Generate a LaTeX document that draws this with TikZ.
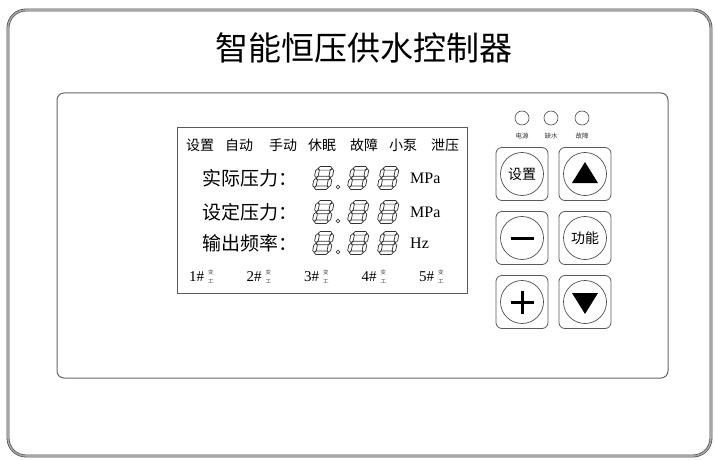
\documentclass[tikz,border=0pt]{standalone}
\usepackage{fontspec}
\setmainfont{Liberation Serif}
\newfontfamily\cjk{Noto Sans CJK SC}
\usepackage{xcolor}
\usepackage{tikz}
\usetikzlibrary{positioning}
\usetikzlibrary{calc}

\tikzset{
  seg/.style={draw=black!80, line width=0.7pt, line join=round},
  keybox/.style={draw=black!65, line width=0.8pt, rounded corners=6pt, minimum width=52pt, minimum height=53pt},
  keyring/.style={draw=black!70, line width=0.7pt, circle, minimum size=43pt, inner sep=0pt},
  led/.style={draw=black!70, line width=0.6pt, circle, minimum size=14pt, inner sep=0pt},
  tiny/.style={font=\cjk\fontsize{5.5}{5.5}\selectfont, inner sep=0pt, black!70},
}

% seven segment digit, top left corner at (#1,#2)
\newcommand{\segdigit}[2]{%
 \begin{scope}[shift={(#1,#2)}, xslant=0.2]
  \foreach \yy in {1.8, 11.5, 21.2} {
     \draw[seg] (2.0,\yy) -- (3.8,\yy-1.8) -- (14.2,\yy-1.8) -- (16.0,\yy) -- (14.2,\yy+1.8) -- (3.8,\yy+1.8) -- cycle;
  }
  \foreach \xx in {1.8, 16.2} {
   \foreach \yy/\yz in {2.2/11.1, 11.9/20.8} {
     \draw[seg] (\xx,\yy) -- (\xx+1.8,\yy+1.8) -- (\xx+1.8,\yz-1.8) -- (\xx,\yz) -- (\xx-1.8,\yz-1.8) -- (\xx-1.8,\yy+1.8) -- cycle;
   }
  }
 \end{scope}}

\begin{document}
\begin{tikzpicture}[x=1pt, y=-1pt]
 \useasboundingbox (0,0) rectangle (716,460);

 %frame
 \draw[draw=black!75, double=black!35, line width=0.6pt, double distance=1.6pt, rounded corners=18pt] (8,10) rectangle (711,456);
 \draw[black!60, line width=1pt, rounded corners=7pt] (57,93) rectangle (668,378);
 \node[font=\cjk\fontsize{33}{33}\selectfont, inner sep=0pt] (title) at (364,48) {智能恒压供水控制器};

 %lcd
 \draw[black!65, line width=1pt] (177,128) rectangle (467,293);

 \foreach \i/\x/\name in {1/200/设置, 2/239/自动, 3/283/手动, 4/322/休眠, 5/364/故障, 6/403/小泵, 7/445/泄压} {
     \node[font=\cjk\fontsize{14}{14}\selectfont, inner sep=0pt] (S\i) at (\x,145) {\name};
 }

 \foreach \i/\y/\name/\unit in {1/178/实际压力：/MPa, 2/212/设定压力：/MPa, 3/243/输出频率：/Hz} {
     \node[anchor=west, font=\cjk\fontsize{19}{19}\selectfont, inner sep=0pt] (N\i) at (202,\y) {\name};
     \node[anchor=west, font=\fontsize{16}{16}\selectfont, inner sep=0pt] (U\i) at (410,\y) {\unit};
     \foreach \x in {316.5, 351.5, 381.5} {
         \segdigit{\x}{\y-11.5}
     }
     \draw[black!75, line width=0.6pt] (338,\y+9) circle (1.9);
 }

 %level 2
 \foreach \i in {1,...,5} {
     \node[anchor=west, font=\fontsize{15}{15}\selectfont, inner sep=0pt] (P\i) at ({189+57.5*(\i-1)},277) {\i\#};
     \node[tiny, anchor=south west] (T\i) at ($(P\i.east)+(3.5,-1.5)$) {变};
     \node[tiny, below=3.5pt of T\i] (W\i) {工};
 }

 %leds
 \foreach \i/\x/\name in {1/522/电源, 2/551/缺水, 3/582/故障} {
     \node[led] (L\i) at (\x,118) {};
     \node[below=8pt of L\i, font=\cjk\fontsize{6.5}{6.5}\selectfont, inner sep=0pt, black!80] (E\i) {\name};
 }

 %keys
 \foreach \c/\x in {1/522, 2/585} {
   \foreach \r/\y in {1/174, 2/238, 3/302} {
         \node[keybox] (K\c\r) at (\x,\y) {};
         \node[keyring] (R\c\r) at (K\c\r) {};
   }
 }
 \node[font=\cjk\fontsize{14}{14}\selectfont, inner sep=0pt] (t11) at (R11) {设置};
 \node[font=\cjk\fontsize{14}{14}\selectfont, inner sep=0pt] (t22) at (R22) {功能};
 \fill ($(R21)+(0,-12)$) -- ($(R21)+(13,9)$) -- ($(R21)+(-13,9)$) -- cycle;
 \fill ($(R23)+(0,12)$) -- ($(R23)+(13,-9)$) -- ($(R23)+(-13,-9)$) -- cycle;
 \draw[line width=3pt] ($(R12)+(-11.5,0)$) -- ($(R12)+(11.5,0)$);
 \draw[line width=3pt] ($(R13)+(-11.5,0)$) -- ($(R13)+(11.5,0)$);
 \draw[line width=3pt] ($(R13)+(0,-11.5)$) -- ($(R13)+(0,11.5)$);
\end{tikzpicture}
\end{document}
